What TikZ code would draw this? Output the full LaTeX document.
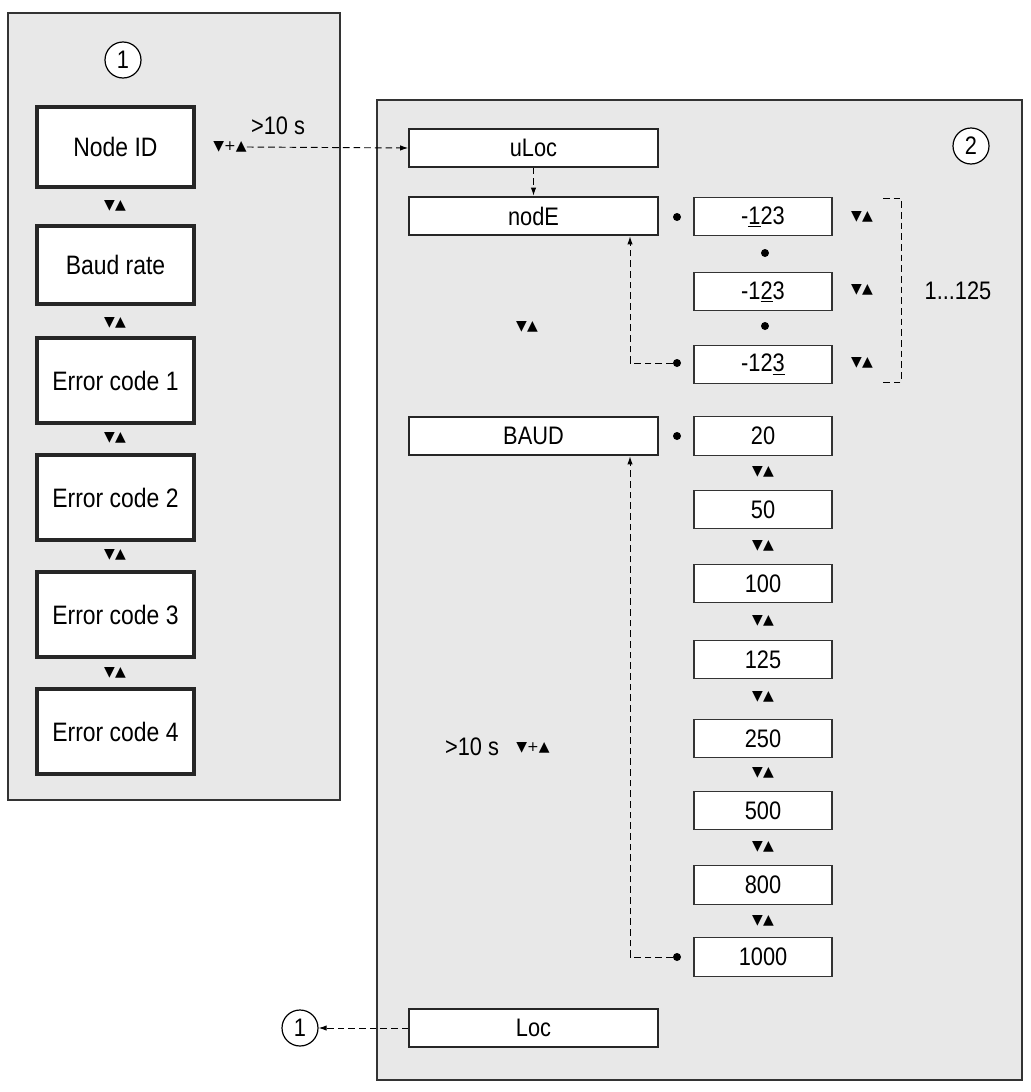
\documentclass[tikz,border=0pt]{standalone}
\usepackage{fontspec}
\setmainfont{Liberation Sans}[FakeStretch=0.86]
\newfontfamily\symf{DejaVu Sans}
\usetikzlibrary{arrows.meta}
\newcommand{\ud}{{\symf\fontsize{10.5}{10.5}\selectfont ▼▲}}
\newcommand{\upd}{{\symf\fontsize{10.5}{10.5}\selectfont ▼+▲}}
\begin{document}
\begin{tikzpicture}[x=0.75pt,y=-0.75pt,
  panel/.style={draw=black!80,line width=1.3pt,fill=black!9},
  lbox/.style={draw=black!85,line width=2.4pt,fill=white,minimum width=117.75pt,align=center,font=\fontsize{20}{22}\selectfont,inner sep=0pt},
  mbox/.style={draw=black!85,line width=1.2pt,fill=white,minimum width=186.75pt,minimum height=28.5pt,inner sep=0pt,font=\fontsize{19}{21}\selectfont},
  vbox/.style={draw=black!80,line width=0.8pt,fill=white,minimum width=103.5pt,minimum height=29pt,inner sep=0pt,font=\fontsize{19}{21}\selectfont},
  circ/.style={circle,draw=black,line width=0.9pt,fill=white,minimum size=27pt,inner sep=0pt,font=\fontsize{19}{21}\selectfont},
  dot/.style={circle,fill=black,minimum size=6pt,inner sep=0pt},
  sym/.style={inner sep=0pt},
  darr/.style={dash pattern=on 5pt off 3pt,line width=0.7pt,-{Latex[length=6pt,width=4pt]}},
  dsh/.style={dash pattern=on 5pt off 3pt,line width=0.7pt}]
\useasboundingbox (0,0) rectangle (1031,1092);
\fill[white] (0,0) rectangle (1031,1092);
% panels
\draw[panel] (8,13) rectangle (340,800);
\draw[panel] (377,100) rectangle (1022,1080);
\node[circ] (c1) at (123,60) {1};
\node[circ] (c2) at (971,146) {2};
% left boxes
\node[lbox,minimum height=60pt] (nid) at (115.5,147) {Node ID};
\node[lbox,minimum height=58.5pt] (baud) at (115.5,265) {Baud rate};
\node[lbox,minimum height=63.75pt] (e1) at (115.5,380.5) {Error code 1};
\node[lbox,minimum height=63.75pt] (e2) at (115.5,497.5) {Error code 2};
\node[lbox,minimum height=63.75pt] (e3) at (115.5,614.5) {Error code 3};
\node[lbox,minimum height=63.75pt] (e4) at (115.5,731.5) {Error code 4};
\foreach \y/\n in {206/a,323/b,438/c,555/d,673/e}
  \node[sym] (lu\n) at (115,\y) {\ud};
% top link
\node[sym] (pl) at (230,147) {\upd};
\node[font=\fontsize{19}{21}\selectfont] (t10) at (278,126) {>10 s};
% main boxes
\node[mbox] (uloc) at (533.5,148) {uLoc};
\node[mbox,line width=2pt] (node) at (533.5,216) {nodE};
\node[mbox,line width=2pt] (baudm) at (533.5,436) {BAUD};
\node[mbox] (loc) at (533.5,1028) {Loc};
\draw[darr] (pl.east) -- (uloc.west);
\draw[darr] (uloc.south) -- (node.north);
% node values
\node[vbox] (n1) at (763,216.5) {-\underline{1}23};
\node[vbox] (n2) at (763,291.5) {-1\underline{2}3};
\node[vbox] (n3) at (763,364.5) {-12\underline{3}};
\node[dot] (d1) at (677,217) {};
\node[dot] (d2) at (765,253) {};
\node[dot] (d3) at (765,326) {};
\node[dot] (d4) at (677,363) {};
\foreach \y/\n in {217/a,290/b,363/c} \node[sym] (nu\n) at (862,\y) {\ud};
\draw[dsh] (883,198) -- (901,198) -- (901,382) -- (883,382);
\node[font=\fontsize{19}{21}\selectfont] (r125) at (958,291) {1...125};
\node[sym] (mu) at (527,327) {\ud};
\coordinate (k1) at (630,363);
\draw[darr] (d4.west) -- (k1) -- (node.south -| k1);
% baud values
\node[vbox] (b1) at (763,436) {20};
\node[vbox] (b2) at (763,509.5) {50};
\node[vbox] (b3) at (763,583.5) {100};
\node[vbox] (b4) at (763,659.5) {125};
\node[vbox] (b5) at (763,738.5) {250};
\node[vbox] (b6) at (763,810.5) {500};
\node[vbox] (b7) at (763,885) {800};
\node[vbox] (b8) at (763,957) {1000};
\foreach \y/\n in {472/a,546/b,621/c,697/d,773/e,847/f,921/g} \node[sym] (bu\n) at (763,\y) {\ud};
\node[dot] (d5) at (677,436) {};
\node[dot] (d6) at (677,957) {};
\coordinate (k2) at (630,957);
\draw[darr] (d6.west) -- (k2) -- (baudm.south -| k2);
\node[font=\fontsize{19}{21}\selectfont] (t10b) at (472,747) {>10 s};
\node[sym] (pl2) at (533,748) {\upd};
% Loc return
\node[circ] (c1b) at (300,1028) {1};
\draw[darr] (loc.west) -- (c1b.east);
\end{tikzpicture}
\end{document}
